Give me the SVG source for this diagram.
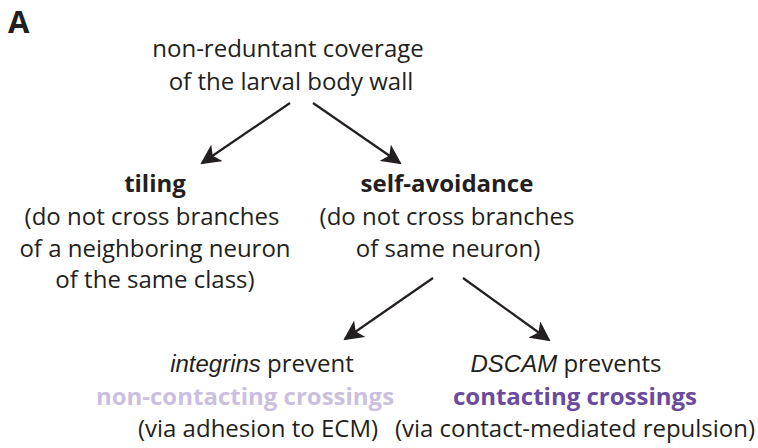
<svg xmlns="http://www.w3.org/2000/svg" width="758" height="448" viewBox="0 0 758 448">
<defs>
<style>
text{font-family:"Open Sans","Noto Sans",sans-serif;font-size:24px;fill:#231f20;text-anchor:middle}
.b{font-weight:bold}
.i{font-family:"Liberation Sans",Arial,sans-serif;font-style:italic}
.lt{fill:#cbbfe0}
.dk{fill:#6a4a9e}
.conn line{stroke:#231f20;stroke-width:2.2}
</style>
<marker id="ah" viewBox="0 0 20 20" refX="18" refY="10" markerWidth="20" markerHeight="20" markerUnits="userSpaceOnUse" orient="auto">
<path d="M0,0 L20,10 L0,20 L5,10 Z" fill="#231f20"/>
</marker>
</defs>
<rect width="758" height="448" fill="#fff"/>
<text x="8" y="33" class="b" style="text-anchor:start;font-size:31px">A</text>
<g id="root">
<text x="288" y="57">non-reduntant coverage</text>
<text x="291" y="90">of the larval body wall</text>
</g>
<g id="tiling">
<text x="155" y="192" class="b">tiling</text>
<text x="152" y="225">(do not cross branches</text>
<text x="155" y="257">of a neighboring neuron</text>
<text x="155" y="288">of the same class)</text>
</g>
<g id="selfavoid">
<text x="447" y="192" class="b">self-avoidance</text>
<text x="447" y="225">(do not cross branches</text>
<text x="448" y="257">of same neuron)</text>
</g>
<g id="integrins">
<text x="262" y="372"><tspan class="i">integrins</tspan> prevent</text>
<text x="245" y="405" class="b lt">non-contacting crossings</text>
<text x="258" y="437">(via adhesion to ECM)</text>
</g>
<g id="dscam">
<text x="566" y="372"><tspan class="i">DSCAM</tspan> prevents</text>
<text x="575" y="405" class="b dk">contacting crossings</text>
<text x="575" y="437">(via contact-mediated repulsion)</text>
</g>
<g class="conn">
<line x1="290" y1="103" x2="202" y2="163" marker-end="url(#ah)"/>
<line x1="313" y1="103" x2="400" y2="163" marker-end="url(#ah)"/>
<line x1="433" y1="278" x2="345" y2="339" marker-end="url(#ah)"/>
<line x1="463" y1="278" x2="549" y2="340" marker-end="url(#ah)"/>
</g>
</svg>
